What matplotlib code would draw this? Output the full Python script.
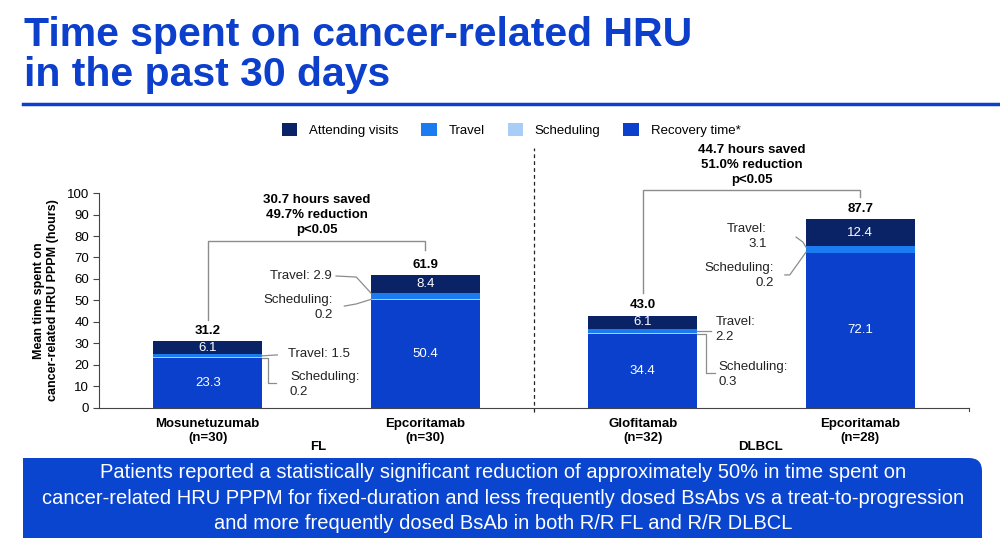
import numpy as np
import matplotlib.pyplot as plt
from matplotlib.patches import FancyBboxPatch, Rectangle

plt.rcParams['font.family'] = ['Liberation Sans', 'DejaVu Sans']

# data
categories = ['Mosunetuzumab\n(n=30)', 'Epcoritamab\n(n=30)', 'Glofitamab\n(n=32)', 'Epcoritamab\n(n=28)']
recovery = np.array([23.3, 50.4, 34.4, 72.1])
scheduling = np.array([0.2, 0.2, 0.3, 0.2])
travel = np.array([1.5, 2.9, 2.2, 3.1])
attending = np.array([6.1, 8.4, 6.1, 12.4])
totals = np.array([31.2, 61.9, 43.0, 87.7])
groups = ['FL', 'DLBCL']
comparisons = ['30.7 hours saved\n49.7% reduction\np<0.05', '44.7 hours saved\n51.0% reduction\np<0.05']

c_att = '#0a2366'
c_trav = '#1a7cf0'
c_sched = '#a8cdf6'
c_rec = '#0b40cc'
c_title = '#0b3fcc'
c_box = '#0a45d0'
c_grey = '#8c8c8c'

fig = plt.figure(figsize=(10, 5.48), dpi=100)
ax = fig.add_axes([0.099, 0.2555, 0.870, 0.3923])

x = np.arange(len(categories))
w = 0.5
ax.bar(x, recovery, w, color=c_rec, label='Recovery time*')
ax.bar(x, scheduling, w, bottom=recovery, color=c_sched, label='Scheduling')
ax.bar(x, travel, w, bottom=recovery + scheduling, color=c_trav, label='Travel')
ax.bar(x, attending, w, bottom=recovery + scheduling + travel, color=c_att, label='Attending visits')

ax.set_xlim(-0.5, 3.5)
ax.set_ylim(0, 100)
ax.set_yticks(np.arange(0, 101, 10))
ax.tick_params(axis='y', labelsize=9.5, length=4, width=0.8, color='#444444', pad=3)
ax.tick_params(axis='x', length=0, pad=7)
ax.set_xticks(x)
ax.set_xticklabels(categories, fontsize=9.5, fontweight='bold', linespacing=1.3)
for s in ['top', 'right']:
    ax.spines[s].set_visible(False)
ax.spines['left'].set_color('#444444')
ax.spines['bottom'].set_color('#444444')
ax.set_ylabel('Mean time spent on\ncancer-related HRU PPPM (hours)', fontsize=9, fontweight='bold', labelpad=6)

# segment values
for i in range(len(x)):
    ax.text(x[i], recovery[i] / 2, f'{recovery[i]:.1f}', color='white', ha='center', va='center', fontsize=9.5)
    top0 = recovery[i] + scheduling[i] + travel[i]
    ax.text(x[i], top0 + attending[i] / 2, f'{attending[i]:.1f}', color='white', ha='center', va='center', fontsize=9.5)
    ax.annotate(f'{totals[i]:.1f}', (x[i], totals[i]), xytext=(0, 3), textcoords='offset points',
                ha='center', va='bottom', fontsize=9.5, fontweight='bold')

# callouts for travel and scheduling
callouts = [
    # text, text x, text y, ha, leader line xs, ys
    ('Travel: 1.5', 0.369, 25.1, 'left', [0.25, 0.32], [24.25, 24.7]),
    ('Scheduling:\n0.2', 0.378, 10.9, 'left', [0.25, 0.278, 0.278, 0.314], [23.4, 23.4, 11.6, 11.6]),
    ('Travel: 2.9', 0.568, 61.4, 'right', [0.59, 0.683, 0.75], [61.4, 60.9, 53.5]),
    ('Scheduling:\n0.2', 0.577, 46.7, 'right', [0.628, 0.683, 0.75], [47.4, 48.4, 50.5]),
    ('Travel:\n2.2', 2.335, 36.5, 'left', [2.25, 2.313], [35.8, 35.8]),
    ('Scheduling:\n0.3', 2.35, 15.6, 'left', [2.25, 2.29, 2.29, 2.33], [34.55, 34.55, 16.3, 16.3]),
    ('Travel:\n3.1', 2.571, 79.8, 'right', [2.705, 2.736, 2.75], [79.5, 77.2, 74.9]),
    ('Scheduling:\n0.2', 2.602, 61.6, 'right', [2.653, 2.676, 2.75], [61.9, 61.9, 72.4]),
]
for txt, tx, ty, ha, lx, ly in callouts:
    ax.text(tx, ty, txt, ha=ha, va='center', fontsize=9.5, color='#222222', linespacing=1.25)
    ax.plot(lx, ly, color=c_grey, lw=0.9, clip_on=False)

# comparison brackets
brackets = [(0, 1, 40.9, 77.7, 73.5, 0.5, 89.8), (2, 3, 53.5, 101.4, 98.1, 2.5, 113.0)]
for (a, b, ya, ytop, yb, tx, ty), txt in zip(brackets, comparisons):
    ax.plot([a, a, b, b], [ya, ytop, ytop, yb], color=c_grey, lw=1, clip_on=False)
    ax.text(tx, ty, txt, ha='center', va='center', fontsize=9.5, fontweight='bold', linespacing=1.3)

# group divider and labels
ax.plot([1.5, 1.5], [-2, 121], color='#222222', lw=0.9, ls=(0, (3, 2.5)), clip_on=False)
ax.plot([3.5, 3.5], [0, -1.5], color='#444444', lw=0.8, clip_on=False)
ax.text(0.51, -18, groups[0], ha='center', va='center', fontsize=9.5, fontweight='bold')
ax.text(2.54, -18, groups[1], ha='center', va='center', fontsize=9.5, fontweight='bold')

# legend
h, l = ax.get_legend_handles_labels()
fig.legend(h[::-1], l[::-1], loc='center', bbox_to_anchor=(0.511, 0.7628), ncol=4, frameon=False,
           fontsize=9.5, handlelength=1.15, handleheight=1.15, handletextpad=0.9, columnspacing=1.75)

# title and rule
fig.text(0.024, 0.971, 'Time spent on cancer-related HRU\nin the past 30 days', color=c_title,
         fontsize=29.5, fontweight='bold', ha='left', va='top', linespacing=1.07)
fig.add_artist(plt.Line2D([0.023, 1.0], [1 - 104 / 548, 1 - 104 / 548], color=c_title, lw=2.5))

# bottom message box, only the top right corner rounded
bx, by, bw, bh = 0.023, 1 - 538 / 548, 0.959, 80 / 548
r = 0.013
fig.add_artist(FancyBboxPatch((bx + r, by + r * 1.82), bw - 2 * r, bh - 2 * r * 1.82,
                              boxstyle=f'round,pad={r},rounding_size={r}', mutation_aspect=1.82,
                              transform=fig.transFigure, facecolor=c_box, edgecolor='none'))
fig.add_artist(Rectangle((bx, by), bw - 0.03, bh, transform=fig.transFigure, facecolor=c_box, edgecolor='none'))
fig.add_artist(Rectangle((bx, by), bw, bh - 0.05, transform=fig.transFigure, facecolor=c_box, edgecolor='none'))
fig.text(0.503, 1 - 498 / 548,
         'Patients reported a statistically significant reduction of approximately 50% in time spent on\n'
         'cancer-related HRU PPPM for fixed-duration and less frequently dosed BsAbs vs a treat-to-progression\n'
         'and more frequently dosed BsAb in both R/R FL and R/R DLBCL',
         color='white', fontsize=14.5, ha='center', va='center', linespacing=1.42)

plt.savefig('out.png', dpi=100)
plt.close()
